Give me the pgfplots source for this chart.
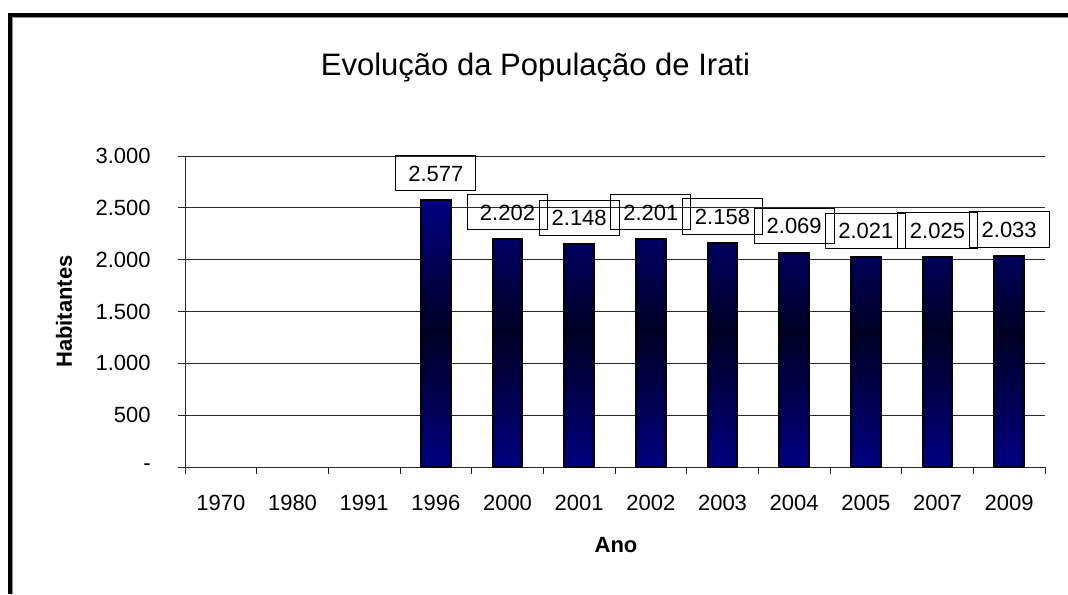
\documentclass[border=0pt]{standalone}
\usepackage{fontspec}
\setmainfont{Liberation Sans}
\usepackage{pgfplots}
\pgfplotsset{compat=1.18}
\definecolor{barnavy}{RGB}{0,0,128}
\definecolor{bardark}{RGB}{0,0,36}
\definecolor{gridc}{RGB}{40,40,40}
\begin{document}
\begin{tikzpicture}
\useasboundingbox (0,0) rectangle (534pt,297pt);
\fill[white] (0,0) rectangle (534pt,297pt);
\draw[black, line width=2pt] (5pt,0) -- (5pt,289.5pt) -- (534pt,289.5pt);
\draw[black!45, line width=0.5pt] (6.25pt,0) -- (6.25pt,288.25pt) -- (534pt,288.25pt);
\begin{axis}[
  at={(92.5pt,63.5pt)}, anchor=south west,
  scale only axis, width=430pt, height=155.5pt,
  xmin=-0.5, xmax=11.5, ymin=0, ymax=3000,
  axis x line*=bottom, axis y line*=left,
  axis line style={-, gridc, line width=0.5pt},
  tick style={gridc, line width=0.5pt},
  tick align=outside, major tick length=3.5pt,
  xtick={-0.5,0.5,1.5,2.5,3.5,4.5,5.5,6.5,7.5,8.5,9.5,10.5,11.5},
  xticklabels={1970,1980,1991,1996,2000,2001,2002,2003,2004,2005,2007,2009},
  x tick label as interval,
  ytick={0,500,1000,1500,2000,2500,3000},
  yticklabels={-\hspace{6.5pt},500,1.000,1.500,2.000,2.500,3.000},
  ymajorgrids, major grid style={gridc, line width=0.5pt},
  ticklabel style={font=\fontsize{11pt}{13pt}\selectfont, text=black},
  yticklabel style={anchor=east, inner sep=0pt, xshift=-13.5pt},
  xticklabel style={anchor=base, inner sep=0pt, yshift=-18pt},
  /pgf/number format/assume math mode=true,
  /pgf/number format/1000 sep={.},
  nodes near coords,
  every node near coord/.append style={draw=black, line width=0.5pt, font=\fontsize{11pt}{13pt}\selectfont, text height=7.9pt, text depth=0pt, inner xsep=6.2pt, inner ysep=4.9pt, yshift=4.2pt, text=black},
  clip=false,
]
\addplot[ybar, bar width=0.41, draw=black, line width=1pt, top color=barnavy, bottom color=barnavy, middle color=bardark] coordinates {(3,2577)(4,2202)(5,2148)(6,2201)(7,2158)(8,2069)(9,2021)(10,2025)(11,2033)};
\end{axis}
\node[font=\fontsize{15.5pt}{18pt}\selectfont, anchor=base] at (267.75pt,259pt) {Evolução da População de Irati};
\node[font=\fontsize{11pt}{13pt}\selectfont\bfseries, rotate=90] at (32pt,141.25pt) {Habitantes};
\node[font=\fontsize{11pt}{13pt}\selectfont\bfseries] at (308pt,24.5pt) {Ano};
\end{tikzpicture}
\end{document}
